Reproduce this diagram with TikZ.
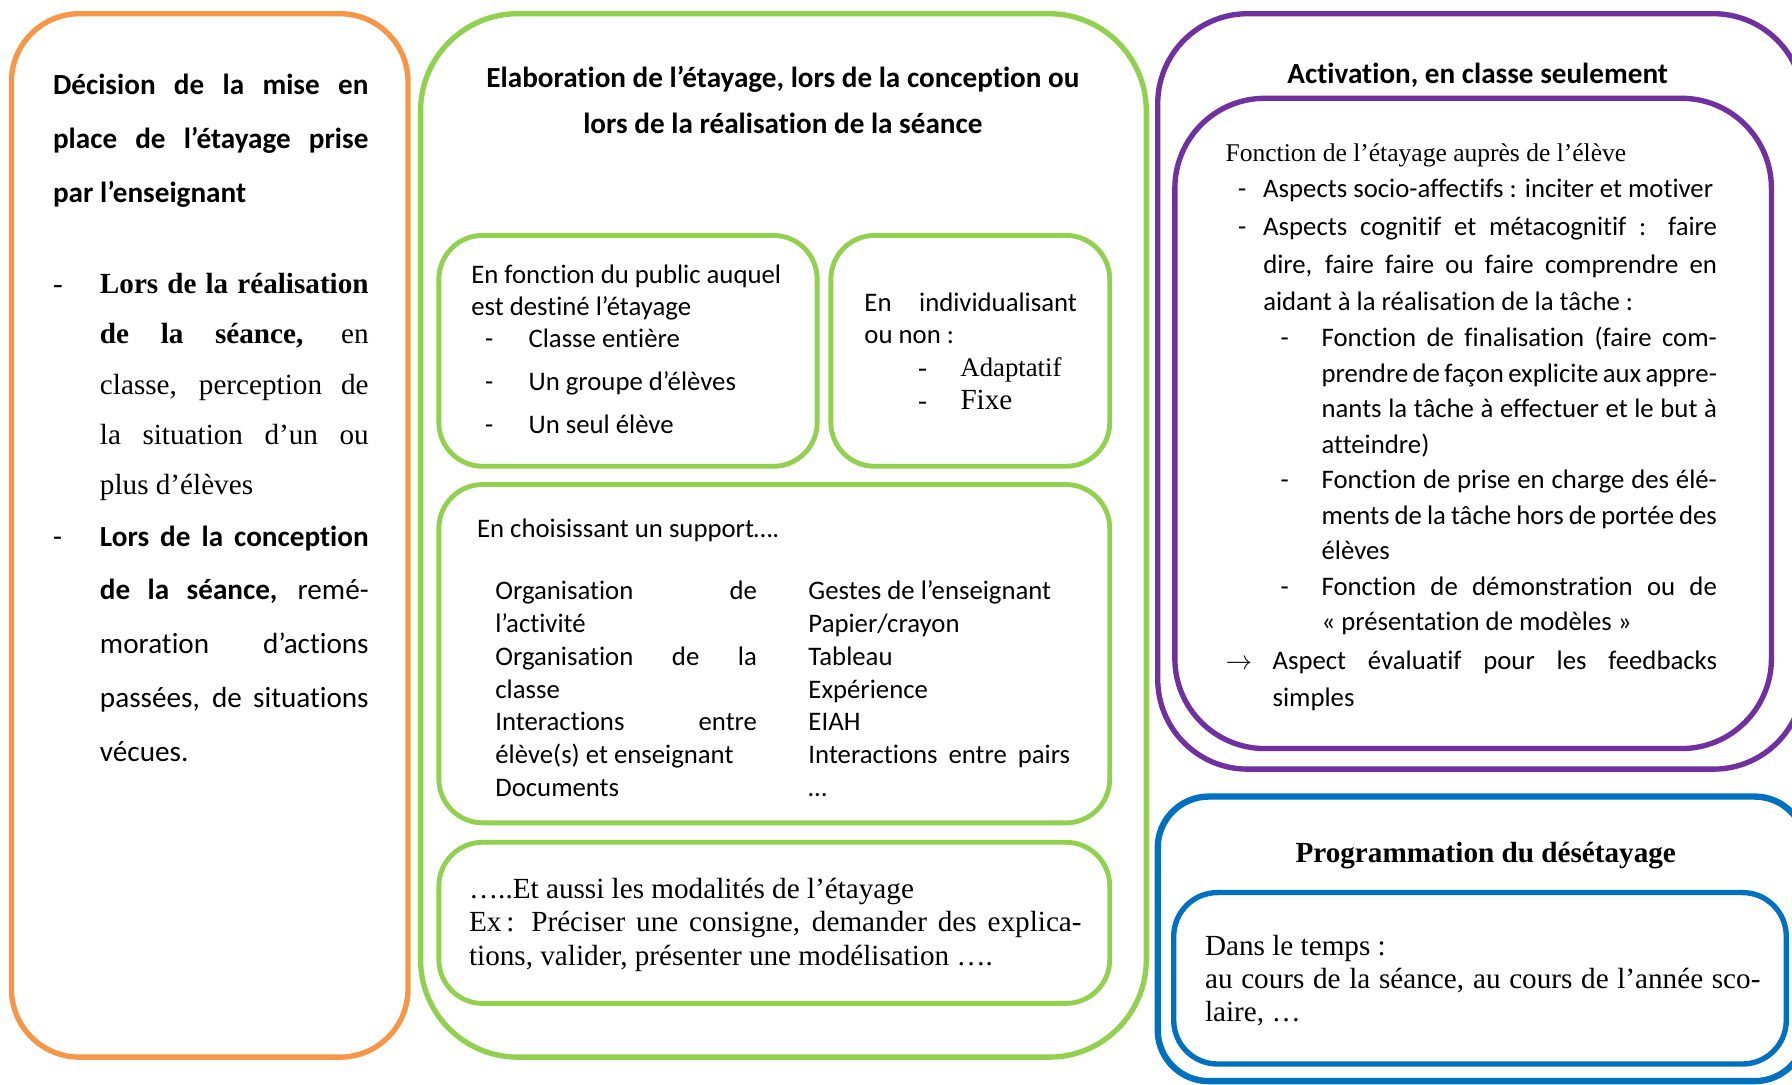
\documentclass[tikz,border=0pt]{standalone}
\usepackage{fontspec}
\setmainfont{Liberation Serif}
\newfontfamily\calibri[Ligatures={TeX,NoCommon}]{Carlito}
\usepackage{tikz}
\usetikzlibrary{positioning}
\usepackage{xcolor}
\definecolor{orangebox}{HTML}{F79646}
\definecolor{greenbox}{HTML}{92D050}
\definecolor{purplebox}{HTML}{7030A0}
\definecolor{bluebox}{HTML}{0070C0}
% justified line of a given width
\newcommand{\jline}[2]{\makebox[#1][s]{#2}}
\newcommand{\dsh}[1]{\makebox[#1][l]{-}}

\begin{document}
\begin{tikzpicture}[x=0.47pt, y=-0.47pt,
    bigbox/.style={draw, line width=2.2pt, rounded corners=#1},
    smallbox/.style={draw=greenbox, line width=2pt, rounded corners=18pt},
    txt/.style={inner sep=0pt, anchor=base west, align=left},
    cal/.style={font=\calibri\fontsize{11}{13.2}\selectfont}]
        \useasboundingbox (0,0) rectangle (1568,949);
        \fill[white] (0,0) rectangle (1568,949);
        % Draw the boxes
        \draw[bigbox=28pt, orangebox] (10,12) rectangle (357,925);
        \draw[bigbox=40pt, greenbox] (368,12) rectangle (1003,925);
        \draw[smallbox] (384,206) rectangle (715,408);
        \draw[smallbox] (727,206) rectangle (971,408);
        \draw[smallbox] (384,424) rectangle (971,720);
        \draw[smallbox] (384,737) rectangle (971,878);
        \draw[bigbox=37pt, purplebox] (1013,12) rectangle (1578,673);
        \draw[bigbox=37pt, purplebox] (1028,86) rectangle (1550,655);
        \draw[bigbox=21pt, bluebox, line width=2.6pt] (1013,697) rectangle (1580,946);
        \draw[bigbox=18pt, bluebox] (1027,781) rectangle (1563,931);
        % Decision (anchors on the last line)
        \node[txt, font=\calibri\bfseries\fontsize{12}{22.1}\selectfont] (decision) at (46,177)
            {\jline{129.7pt}{Décision de la mise en}\\
             \jline{129.7pt}{place de l’étayage prise}\\
             par l’enseignant};
        \node[txt, font=\fontsize{12}{20.7}\selectfont] (realisation) at (46,433)
            {\dsh{19.3pt}\jline{110.5pt}{\bfseries Lors de la réalisation}\\
             \hspace*{19.3pt}\jline{110.5pt}{{\bfseries de la séance,} en}\\
             \hspace*{19.3pt}\jline{110.5pt}{classe, perception de}\\
             \hspace*{19.3pt}\jline{110.5pt}{la situation d’un ou}\\
             \hspace*{19.3pt}plus d’élèves};
        \node[txt, font=\calibri\fontsize{12}{22.1}\selectfont] (conception) at (46,666)
            {\dsh{19.3pt}\jline{110.5pt}{\bfseries Lors de la conception}\\
             \hspace*{19.3pt}\jline{110.5pt}{{\bfseries de la séance,} remé-}\\
             \hspace*{19.3pt}\jline{110.5pt}{moration d’actions}\\
             \hspace*{19.3pt}\jline{110.5pt}{passées, de situations}\\
             \hspace*{19.3pt}vécues.};
        % Elaboration
        \node[inner sep=0pt, anchor=base, align=center, font=\calibri\bfseries\fontsize{12}{18.8}\selectfont] (elaboration) at (685,117)
            {Elaboration de l’étayage, lors de la conception ou\\
             lors de la réalisation de la séance};
        \node[txt, cal] (public) at (412,276)
            {En fonction du public auquel\\ est destiné l’étayage};
        \node[txt, cal, font=\calibri\fontsize{11}{17.6}\selectfont] (publist) at (424,379)
            {\dsh{17.9pt}Classe entière\\ \dsh{17.9pt}Un groupe d’élèves\\ \dsh{17.9pt}Un seul élève};
        \node[txt, cal] (indiv) at (756,301)
            {\jline{87.4pt}{En individualisant}\\ ou non :};
        \node[txt, font=\fontsize{11}{13.6}\selectfont] (indivlist) at (803,358)
            {\dsh{17.4pt}Adaptatif\\ \dsh{17.4pt}{\fontsize{12}{13.6}\selectfont Fixe}};
        \node[txt, cal] (support) at (417,470) {En choisissant un support….};
        \node[txt, cal, font=\calibri\fontsize{11}{13.5}\selectfont] (supportA) at (433,697)
            {\jline{107.6pt}{Organisation de}\\ l’activité\\
             \jline{107.6pt}{Organisation de la}\\ classe\\
             \jline{107.6pt}{Interactions entre}\\ élève(s) et enseignant\\ Documents};
        \node[txt, cal, font=\calibri\fontsize{11}{13.5}\selectfont] (supportB) at (707,697)
            {Gestes de l’enseignant\\ Papier/crayon\\ Tableau\\ Expérience\\ EIAH\\
             \jline{107.6pt}{Interactions entre pairs}\\ …};
        \node[txt, font=\fontsize{12}{13.9}\selectfont] (modalites) at (410,845)
            {…..Et aussi les modalités de l’étayage\\
             \jline{251.9pt}{Ex\,: Préciser une consigne, demander des explica-}\\
             tions, valider, présenter une modélisation ….};
        % Activation
        \node[inner sep=0pt, anchor=base, font=\calibri\bfseries\fontsize{12}{14}\selectfont] (activation) at (1293,73)
            {Activation, en classe seulement};
        \node[txt, font=\fontsize{10.5}{12}\selectfont] (fonction) at (1072,141)
            {Fonction de l’étayage auprès de l’élève};
        \node[txt, font=\calibri\fontsize{11}{15.5}\selectfont] (aspects) at (1083,272)
            {\dsh{10.3pt}Aspects socio-affectifs : inciter et motiver\\
             \dsh{10.3pt}\jline{186.6pt}{Aspects cognitif et métacognitif : faire}\\
             \hspace*{10.3pt}\jline{186.6pt}{dire, faire faire ou faire comprendre en}\\
             \hspace*{10.3pt}aidant à la réalisation de la tâche :};
        \node[txt, font=\calibri\fontsize{11}{14.6}\selectfont] (roles) at (1120,552)
            {\dsh{16.9pt}\jline{162.6pt}{Fonction de finalisation (faire com-}\\
             \hspace*{16.9pt}\jline{162.6pt}{prendre de façon explicite aux appre-}\\
             \hspace*{16.9pt}\jline{162.6pt}{nants la tâche à effectuer et le but à}\\
             \hspace*{16.9pt}atteindre)\\
             \dsh{16.9pt}\jline{162.6pt}{Fonction de prise en charge des élé-}\\
             \hspace*{16.9pt}\jline{162.6pt}{ments de la tâche hors de portée des}\\
             \hspace*{16.9pt}élèves\\
             \dsh{16.9pt}\jline{162.6pt}{Fonction de démonstration ou de}\\
             \hspace*{16.9pt}« présentation de modèles »};
        \node[txt, font=\calibri\fontsize{11}{15}\selectfont] (evaluatif) at (1072,618)
            {\makebox[19.3pt][l]{$\rightarrow$}\jline{182.8pt}{Aspect évaluatif pour les feedbacks}\\
             \hspace*{19.3pt}simples};
        % Desetayage
        \node[inner sep=0pt, anchor=base, font=\bfseries\fontsize{12}{14}\selectfont] (desetayage) at (1300,755)
            {Programmation du désétayage};
        \node[txt, font=\fontsize{12}{13.6}\selectfont] (temps) at (1054,894)
            {Dans le temps :\\
             \jline{228.4pt}{au cours de la séance, au cours de l’année sco-}\\
             laire, …};
    \end{tikzpicture}
\end{document}
